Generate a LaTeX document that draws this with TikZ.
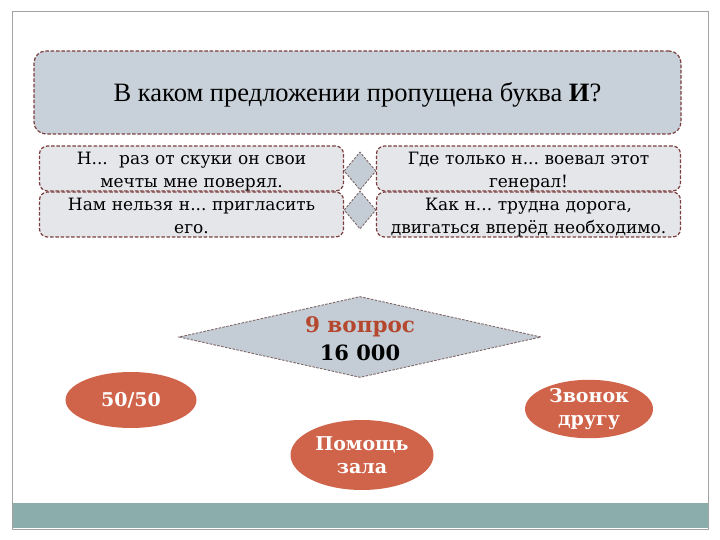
\documentclass[tikz,border=0pt]{standalone}
\usepackage{fontspec}
\setmainfont{Liberation Serif}
\newfontfamily\optfont{DejaVu Serif}
\usetikzlibrary{shapes.geometric}

\definecolor{qfill}{HTML}{C8D1D9}
\definecolor{optfill}{HTML}{E5E6EA}
\definecolor{edgebrown}{HTML}{7B3F3F}
\definecolor{hintred}{HTML}{D0644A}
\definecolor{numred}{HTML}{B4472E}
\definecolor{barteal}{HTML}{8BADAB}
\definecolor{framegray}{HTML}{A3A3A3}

\tikzset{
  rim/.style={draw=edgebrown, line width=1.2pt, dash pattern=on 3.5pt off 1.8pt},
  qbox/.style={rim, fill=qfill, rounded corners=12pt, minimum width=647pt,
    minimum height=83pt, text height=22pt, text depth=3pt,
    font=\fontsize{26.5}{30}\selectfont},
  optbox/.style={rim, fill=optfill, rounded corners=8pt, minimum width=304pt,
    minimum height=45pt, inner sep=0pt, text width=300pt, align=center,
    text height=12pt, text depth=19pt, font=\optfont\fontsize{17}{23}\selectfont},
  gem/.style={diamond, draw=gray!60!edgebrown, line width=0.9pt,
    dash pattern=on 2.5pt off 1.4pt, fill=qfill!95!gray, inner sep=0pt,
    minimum width=32pt, minimum height=38pt},
  hint/.style={ellipse, fill=hintred, text=white, inner sep=0pt, align=center,
    font=\optfont\bfseries\fontsize{19}{23}\selectfont}
}

\begin{document}
\frenchspacing
\begin{tikzpicture}[x=1pt, y=-1pt]
        \useasboundingbox (0,0) rectangle (720,540);

        % slide frame and bottom bar
        \fill [barteal] (12,503) rectangle (708,528);
        \draw [framegray, line width=1pt] (12,12) rectangle (708,529);

        % question
        \node [qbox] (ask) at (357.5,92.5) {В каком предложении пропущена буква \textbf{И}?};

        % answers
        \node [optbox] (ansA) at (191.5,168.5) {Н...\ \ раз от скуки он свои\\мечты мне поверял.};
        \node [optbox] (ansC) at (191.5,214.5) {Нам нельзя н... пригласить\\его.};
        \node [optbox] (ansB) at (528.5,168.5) {Где только н... воевал этот\\генерал!};
        \node [optbox] (ansD) at (528.5,214.5) {Как н... трудна дорога,\\двигаться вперёд необходимо.};

        \node [gem] (gemA) at (360,171) {};
        \node [gem] (gemB) at (360,210) {};

        % round and prize
        \node [gem, minimum width=362pt, minimum height=81pt] (prize) at (360,337) {};
        \node [align=center, inner sep=0pt, font=\optfont\bfseries\fontsize{21.5}{28}\selectfont]
          (prizetext) at ([yshift=-2pt]prize.center) {\textcolor{numred}{9 вопрос}\\{\fontsize{21}{28}\selectfont 16 000}};

        % lifelines
        \node [hint, minimum width=131pt, minimum height=56pt] (half) at (131,400) {50/50};
        \node [hint, minimum width=143pt, minimum height=70pt] (hall) at (362,455) {Помощь\\зала};
        \node [hint, minimum width=128pt, minimum height=51pt] (call) at (589,409) {Звонок\\другу};
\end{tikzpicture}
\end{document}
